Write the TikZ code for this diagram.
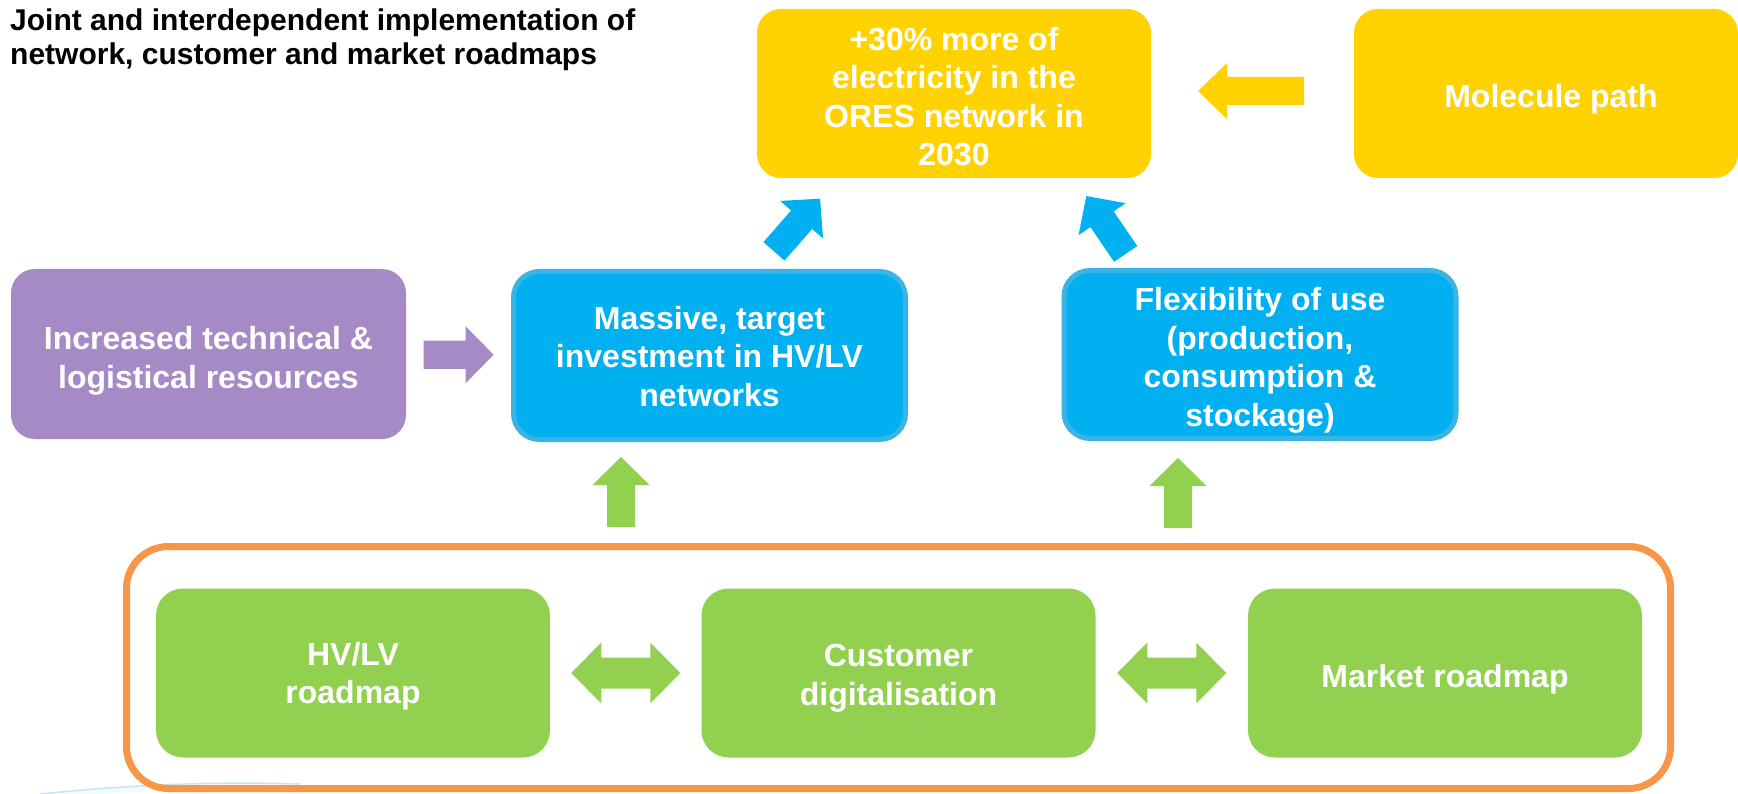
\documentclass[tikz,border=0pt]{standalone}
\usepackage{fontspec}
\setmainfont{Liberation Sans}
\usetikzlibrary{calc}
\definecolor{yel}{HTML}{FFD200}
\definecolor{pur}{HTML}{A68AC6}
\definecolor{blu}{HTML}{00B0F0}
\definecolor{blb}{HTML}{3BB4E4}
\definecolor{grn}{HTML}{92D050}
\definecolor{org}{HTML}{F79646}
\definecolor{swoosh}{HTML}{8FCFE6}
\tikzset{
  boxtext/.style={font=\bfseries\fontsize{32}{38.5}\selectfont, text=white, align=center, inner sep=0pt},
  ybox/.style={fill=yel, rounded corners=24pt, minimum width=394pt, minimum height=169pt},
  pbox/.style={fill=pur, rounded corners=24pt, minimum width=395pt, minimum height=170pt},
  bbox/.style={fill=blu, draw=blb, line width=5pt, rounded corners=26pt, minimum width=392pt, minimum height=168pt},
  gbox/.style={fill=grn, rounded corners=27pt, minimum width=394pt, minimum height=169pt},
  blockarrow/.pic={\fill[pic actions] (-35,-14) -- (7,-14) -- (7,-28.5) -- (35,0) -- (7,28.5) -- (7,14) -- (-35,14) -- cycle;},
  longarrow/.pic={\fill[pic actions] (-53,-14) -- (24,-14) -- (24,-28) -- (53,0) -- (24,28) -- (24,14) -- (-53,14) -- cycle;},
  dblarrow/.pic={\fill[pic actions] (-54.5,0) -- (-24.5,-30.5) -- (-24.5,-15.5) -- (24.5,-15.5) -- (24.5,-30.5) -- (54.5,0) -- (24.5,30.5) -- (24.5,15.5) -- (-24.5,15.5) -- (-24.5,30.5) -- cycle;}
}
\begin{document}
\begin{tikzpicture}[x=1pt,y=-1pt]
\useasboundingbox (0,0) rectangle (1738,794);
\fill[white] (0,0) rectangle (1738,794);
% faint background swoosh
\draw[swoosh, line width=1.5pt, opacity=0.5] (40,794) .. controls (120,786) and (200,781) .. (300,784);
\draw[swoosh!50, line width=5pt, opacity=0.2] (60,794) .. controls (140,788) and (220,785) .. (300,787);
% title
\node[anchor=north west, inner sep=0pt, align=left, text=black, font=\bfseries\fontsize{30}{33.5}\selectfont] (title) at (10,9) {Joint and interdependent implementation of\\network, customer and market roadmaps};
% top row
\node[ybox] (target) at (954,93.5) {};
\node[boxtext, yshift=-3pt] (targettext) at (target) {+30\% more of\\electricity in the\\ORES network in\\2030};
\node[ybox, minimum width=384pt] (molecule) at (1546,93.5) {};
\node[boxtext] (moltext) at (1551,99) {Molecule path};
% middle row
\node[pbox] (resources) at (208.5,354) {};
\node[boxtext, yshift=-7pt] (restext) at (resources) {Increased technical \&\\logistical resources};
\node[bbox] (invest) at (709.5,355.5) {};
\node[boxtext, yshift=-1pt] (investtext) at (invest) {Massive, target\\investment in HV/LV\\networks};
\node[bbox] (flex) at (1260,354.5) {};
\node[boxtext, yshift=-6pt] (flextext) at (flex) {Flexibility of use\\(production,\\consumption \&\\stockage)};
% bottom frame
\draw[org, line width=7pt, rounded corners=42pt] (126.5,546.5) rectangle (1670.5,788.5);
\node[gbox] (hvlv) at (353,673) {};
\node[boxtext, yshift=-3pt] (hvlvtext) at (hvlv) {HV/LV\\roadmap};
\node[gbox] (cust) at (898.5,673) {};
\node[boxtext, yshift=-5pt] (custtext) at (cust) {Customer\\digitalisation};
\node[gbox] (market) at (1445,673) {};
\node[boxtext, yshift=-6pt] (markettext) at (market) {Market roadmap};
% block arrows
\pic[fill=yel, rotate=180] at (1251,91) {longarrow};
\pic[fill=pur] at ($(resources.east)!0.5!(invest.west)$) {blockarrow};
\pic[fill=blu, rotate=48.8] at (797,225) {blockarrow};
\pic[fill=blu, rotate=124.2] at (1106,225) {blockarrow};
\pic[fill=grn, rotate=90] at (621,492) {blockarrow};
\pic[fill=grn, rotate=90] at (1178,493) {blockarrow};
\pic[fill=grn] at ($(hvlv.east)!0.5!(cust.west)$) {dblarrow};
\pic[fill=grn] at ($(cust.east)!0.5!(market.west)$) {dblarrow};
\end{tikzpicture}
\end{document}
